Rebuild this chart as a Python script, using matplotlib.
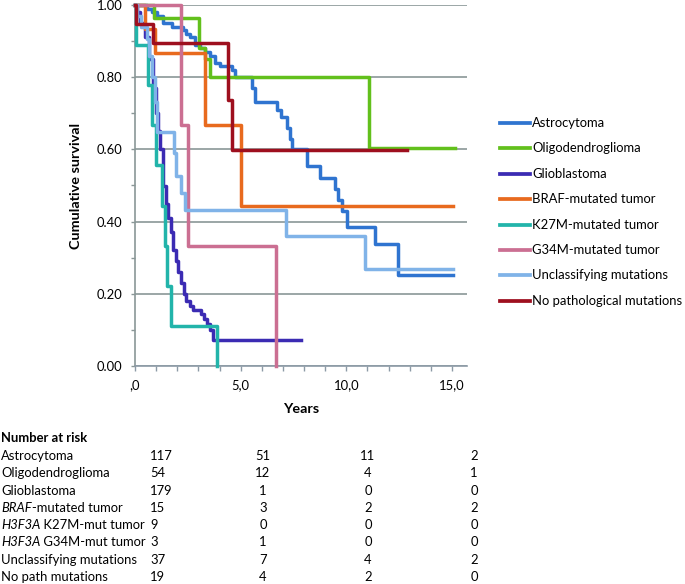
import numpy as np
import matplotlib
matplotlib.use("Agg")
import matplotlib.pyplot as plt
from matplotlib.lines import Line2D

plt.rcParams['font.family'] = ['Lato', 'DejaVu Sans']

W, H = 685, 584

# survival curves (years, cumulative survival)
labels = ["Astrocytoma", "Oligodendroglioma", "Glioblastoma", "BRAF-mutated tumor",
          "K27M-mutated tumor", "G34M-mutated tumor", "Unclassifying mutations",
          "No pathological mutations"]
colors = ["#2F74D0", "#62C01C", "#3B2BB3", "#E86A1E", "#22B4AA", "#CB6F92",
          "#80B3E8", "#9E0F1E"]

astro_t = [0, 0.57, 0.8, 1.04, 1.33, 1.75, 2.27, 2.41, 2.6, 2.84, 3.08, 3.31, 3.55,
           3.79, 4.02, 4.59, 4.73, 5.55, 5.7, 6.7, 6.9, 7.2, 7.35, 7.45, 8.15, 8.75,
           9.45, 9.6, 9.8, 10.02, 11.36, 12.45, 15.05]
astro_s = [1.0, 0.99, 0.98, 0.97, 0.95, 0.94, 0.93, 0.92, 0.91, 0.89, 0.88, 0.87, 0.86,
           0.84, 0.83, 0.82, 0.80, 0.77, 0.73, 0.71, 0.69, 0.66, 0.63, 0.60, 0.555, 0.52,
           0.49, 0.46, 0.43, 0.386, 0.338, 0.253, 0.253]

oligo_t = [0, 0.9, 3.05, 3.3, 3.55, 11.05, 15.15]
oligo_s = [1.0, 0.963, 0.88, 0.85, 0.80, 0.603, 0.603]

glio_t = [0, 0.1, 0.25, 0.45, 0.65, 0.85, 1.0, 1.1, 1.2, 1.33, 1.45, 1.56, 1.68, 1.8,
          1.92, 2.05, 2.2, 2.3, 2.4, 2.6, 2.75, 3.1, 3.25, 3.4, 3.55, 3.7, 7.85]
glio_s = [1.0, 0.98, 0.95, 0.91, 0.85, 0.77, 0.70, 0.65, 0.60, 0.50, 0.45, 0.41, 0.37,
          0.32, 0.29, 0.26, 0.23, 0.20, 0.18, 0.165, 0.155, 0.145, 0.13, 0.115, 0.10,
          0.072, 0.072]

braf_t = [0, 0.47, 0.95, 3.3, 5.0, 15.05]
braf_s = [1.0, 0.933, 0.867, 0.667, 0.444, 0.444]

k27_t = [0, 0.03, 0.6, 0.8, 1.0, 1.3, 1.42, 1.5, 1.72, 3.88]
k27_s = [1.0, 0.889, 0.778, 0.667, 0.556, 0.444, 0.333, 0.222, 0.111, 0.0]

g34_t = [0, 2.2, 2.5, 6.65]
g34_s = [1.0, 0.667, 0.333, 0.0]

uncl_t = [0, 0.1, 0.3, 0.55, 0.65, 0.8, 0.95, 1.05, 1.85, 1.95, 2.2, 2.35, 7.15, 10.9, 15.05]
uncl_s = [1.0, 0.97, 0.94, 0.905, 0.86, 0.80, 0.73, 0.647, 0.59, 0.525, 0.48, 0.433,
          0.36, 0.27, 0.27]

nopath_t = [0, 0.05, 0.85, 4.42, 4.6, 12.85]
nopath_s = [1.0, 0.947, 0.895, 0.737, 0.597, 0.597]

curves = [(astro_t, astro_s), (oligo_t, oligo_s), (glio_t, glio_s), (braf_t, braf_s),
          (k27_t, k27_s), (g34_t, g34_s), (uncl_t, uncl_s), (nopath_t, nopath_s)]

# number at risk table
risk_names = [("", "Astrocytoma"), ("", "Oligodendroglioma"), ("", "Glioblastoma"),
              ("BRAF", "-mutated tumor"), ("H3F3A", " K27M-mut tumor"),
              ("H3F3A", " G34M-mut tumor"), ("", "Unclassifying mutations"),
              ("", "No path mutations")]
risk_0 = [117, 54, 179, 15, 9, 3, 37, 19]
risk_5 = [51, 12, 1, 3, 0, 1, 7, 4]
risk_10 = [11, 4, 0, 2, 0, 0, 4, 2]
risk_15 = [2, 1, 0, 2, 0, 0, 2, 0]

xticks = [0, 5, 10, 15]
xticklabels = [",0", "5,0", "10,0", "15,0"]
yticks = [0, 0.2, 0.4, 0.6, 0.8, 1.0]
yticklabels = ["0.00", "0.20", "0.40", "0.60", "0.80", "1.00"]

FS = 9.4      # normal text
FSB = 10.4    # axis titles


def fx(px):
    return px / W


def fy(py):
    return 1 - py / H


fig = plt.figure(figsize=(W / 100, H / 100), dpi=100)
ax = fig.add_axes([fx(135), fy(366), (467 - 135) / W, (366 - 5) / H])

grid_col = "#8A9797"
for (t, s), c in zip(curves, colors):
    ax.step(t, s, where="post", color=c, lw=2.5, clip_on=False, zorder=3)

ax.set_xlim(0, 15.71)
ax.set_ylim(0, 1)
ax.set_xticks(xticks)
ax.set_xticklabels(xticklabels)
ax.set_xticks(np.arange(0, 16), minor=True)
ax.set_yticks(yticks)
ax.set_yticklabels(yticklabels)
ax.set_yticks(np.arange(0.1, 1.0, 0.2), minor=True)
ax.yaxis.grid(True, color=grid_col, lw=1.2, zorder=1)
ax.set_axisbelow(True)

for side in ["top", "right"]:
    ax.spines[side].set_visible(False)
ax.spines["left"].set_color(grid_col)
ax.spines["bottom"].set_color("#8C9AA6")
ax.spines["left"].set_linewidth(1.2)
ax.spines["bottom"].set_linewidth(1.2)

ax.tick_params(axis="x", which="both", length=3.5, width=1, color="#8C9AA6",
               labelsize=FS, pad=6)
ax.tick_params(axis="y", which="both", length=3, width=1, color=grid_col,
               labelsize=FS, pad=6)
ax.set_ylabel("Cumulative survival", fontsize=FSB, fontweight="bold")
ax.yaxis.set_label_coords((82 - 135) / (467 - 135), 0.5)

fig.text(fx(301), fy(409), "Years", fontsize=FSB, fontweight="bold",
         ha="center", va="center")

# legend
for i, (lab, c) in enumerate(zip(labels, colors)):
    y = 123 + i * 25.4
    fig.add_artist(Line2D([fx(500), fx(530)], [fy(y), fy(y)], color=c, lw=2.7))
    fig.text(fx(532), fy(y), lab, fontsize=FS, va="center", ha="left")

# number at risk
fig.text(fx(1), fy(438), "Number at risk", fontsize=FS, fontweight="bold",
         va="center", ha="left")
renderer = fig.canvas.get_renderer()
for i, (it, rest) in enumerate(risk_names):
    y = fy(456 + i * 17.3)
    x0 = fx(1)
    if it:
        t = fig.text(x0, y, it, fontsize=FS, style="italic", va="center", ha="left")
        bb = t.get_window_extent(renderer=renderer)
        x0 = fx(1 + bb.width)
    fig.text(x0, y, rest, fontsize=FS, va="center", ha="left")
    fig.text(fx(150), y, str(risk_0[i]), fontsize=FS, va="center", ha="left")
    fig.text(fx(263), y, str(risk_5[i]), fontsize=FS, va="center", ha="center")
    fig.text(fx(368), y, str(risk_10[i]), fontsize=FS, va="center", ha="center")
    fig.text(fx(474), y, str(risk_15[i]), fontsize=FS, va="center", ha="center")

fig.savefig("out.png", dpi=100)
